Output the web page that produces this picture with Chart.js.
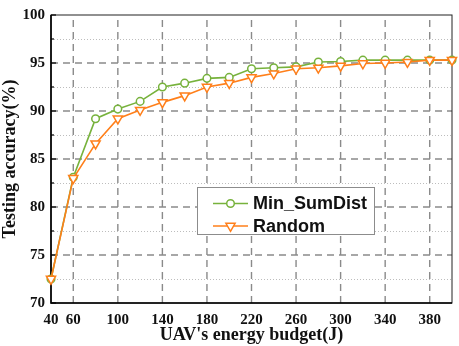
<!DOCTYPE html>
<html><head><meta charset="utf-8">
<script src="https://cdn.jsdelivr.net/npm/chart.js@4/dist/chart.umd.min.js"></script>
<style>html,body{margin:0;padding:0;background:#fff}#wrap{width:459px;height:346px;position:relative}</style>
</head><body><div id="wrap"><canvas id="c" width="459" height="346"></canvas></div>
<script>
const energy = [40,60,80,100,120,140,160,180,200,220,240,260,280,300,320,340,360,380,400];
const minSumDist = [72.5,83.1,89.2,90.2,91.0,92.5,92.9,93.4,93.5,94.4,94.5,94.6,95.1,95.15,95.3,95.3,95.3,95.3,95.3];
const randomSel = [72.5,83.0,86.6,89.2,90.1,90.9,91.6,92.5,92.9,93.5,93.9,94.4,94.5,94.7,94.95,95.0,95.1,95.3,95.3];
const xTicks = [40,60,100,140,180,220,260,300,340,380];
const yTicks = [70,75,80,85,90,95,100];
const seriesNames = ['Min_SumDist','Random'];
const GREEN = '#77b23c', ORANGE = '#ff7f1a';
const SERIF = '"Liberation Serif","Times New Roman",serif';
const SANS = '"Liberation Sans",Arial,sans-serif';

const gridPlugin = {
  id:'gridFrame',
  beforeDatasetsDraw(chart){
    const {ctx, chartArea:a, scales:{x,y}} = chart;
    ctx.save();
    ctx.strokeStyle='#bdbdbd'; ctx.lineWidth=1; ctx.setLineDash([1,2]);
    for(let v=72.5; v<100; v+=5){
      const py=Math.round(y.getPixelForValue(v))+0.5;
      ctx.beginPath(); ctx.moveTo(a.left,py); ctx.lineTo(a.right,py); ctx.stroke();
    }
    ctx.strokeStyle='#8a8a8a'; ctx.lineWidth=1.4; ctx.setLineDash([7,5]);
    yTicks.forEach(v=>{ if(v===70||v===100) return;
      const py=y.getPixelForValue(v);
      ctx.beginPath(); ctx.moveTo(a.left,py); ctx.lineTo(a.right,py); ctx.stroke();});
    xTicks.forEach(v=>{ if(v===40) return;
      const px=x.getPixelForValue(v);
      ctx.beginPath(); ctx.moveTo(px,a.bottom); ctx.lineTo(px,a.top); ctx.stroke();});
    ctx.setLineDash([]);
    ctx.strokeStyle='#222'; ctx.lineWidth=1;
    ctx.strokeRect(a.left,a.top,a.right-a.left,a.bottom-a.top);
    ctx.strokeStyle='#000'; ctx.lineWidth=1.6;
    ctx.beginPath(); ctx.moveTo(a.left,a.top); ctx.lineTo(a.left,a.bottom); ctx.lineTo(a.right,a.bottom); ctx.stroke();
    ctx.lineWidth=1.2;
    for(let v=70; v<=100; v+=2.5){
      const py=y.getPixelForValue(v);
      const len = (v%5===0)?5:3;
      ctx.beginPath(); ctx.moveTo(a.left,py); ctx.lineTo(a.left+len,py); ctx.stroke();
    }
    ctx.restore();
  },
  afterDraw(chart){
    const ctx=chart.ctx;
    const bx=197.5, by=187.5, bw=177, bh=47;
    ctx.save();
    ctx.fillStyle='#fff'; ctx.fillRect(bx,by,bw,bh);
    ctx.strokeStyle='#8c8c8c'; ctx.lineWidth=1; ctx.strokeRect(bx,by,bw,bh);
    const rows=[{c:GREEN,t:seriesNames[0],y:203.5,m:'circle'},{c:ORANGE,t:seriesNames[1],y:226,m:'tri'}];
    rows.forEach(r=>{
      ctx.strokeStyle=r.c; ctx.lineWidth=1.5;
      ctx.beginPath(); ctx.moveTo(213,r.y); ctx.lineTo(248,r.y); ctx.stroke();
      ctx.fillStyle='#fff';
      if(r.m==='circle'){ ctx.beginPath(); ctx.arc(230.5,r.y,3.8,0,Math.PI*2); ctx.fill(); ctx.stroke(); }
      else { const R=5.3; ctx.beginPath();
        ctx.moveTo(230.5,r.y+R); ctx.lineTo(230.5+R*0.866,r.y-R/2); ctx.lineTo(230.5-R*0.866,r.y-R/2); ctx.closePath(); ctx.fill(); ctx.stroke(); }
      ctx.fillStyle='#111'; ctx.font='bold 18px '+SANS; ctx.textBaseline='middle'; ctx.textAlign='left';
      ctx.fillText(r.t,253,r.y+1);
    });
    ctx.restore();
  }
};

new Chart(document.getElementById('c'),{
  type:'line',
  data:{datasets:[
    {label:seriesNames[1],data:energy.map((e,i)=>({x:e,y:randomSel[i]})),borderColor:ORANGE,backgroundColor:'#fff',borderWidth:1.6,
     pointStyle:'triangle',rotation:180,pointRadius:5.3,pointBorderWidth:1.5,pointBackgroundColor:'#fff',pointBorderColor:ORANGE,tension:0,clip:false},
    {label:seriesNames[0],data:energy.map((e,i)=>({x:e,y:minSumDist[i]})),borderColor:GREEN,backgroundColor:'#fff',borderWidth:1.6,
     pointStyle:'circle',pointRadius:3.8,pointBorderWidth:1.5,pointBackgroundColor:'#fff',pointBorderColor:GREEN,tension:0,clip:false}
  ]},
  options:{
    responsive:false,animation:false,devicePixelRatio:1,
    layout:{padding:{left:0,right:7,top:6,bottom:0}},
    plugins:{legend:{display:false},tooltip:{enabled:false}},
    scales:{
      x:{type:'linear',min:40,max:400,
        afterBuildTicks:s=>{s.ticks=xTicks.map(v=>({value:v}));},
        afterFit:s=>{s.height=43;},
        grid:{display:false,drawTicks:false},border:{display:false},
        ticks:{padding:8,color:'#111',font:{family:SERIF,size:15,weight:'bold'},maxRotation:0,autoSkip:false},
        title:{display:true,text:"UAV's energy budget(J)",color:'#111',font:{family:SERIF,size:18,weight:'bold'},padding:{top:0,bottom:0}}
      },
      y:{type:'linear',min:70,max:100,
        afterBuildTicks:s=>{s.ticks=yTicks.map(v=>({value:v}));},
        afterFit:s=>{s.width=51;},
        grid:{display:false,drawTicks:false},border:{display:false},
        ticks:{padding:6,color:'#111',font:{family:SERIF,size:15,weight:'bold'}},
        title:{display:true,text:'Testing accuracy(%)',color:'#111',font:{family:SERIF,size:18,weight:'bold'},padding:{top:0,bottom:0}}
      }
    }
  },
  plugins:[gridPlugin]
});
</script></body></html>
